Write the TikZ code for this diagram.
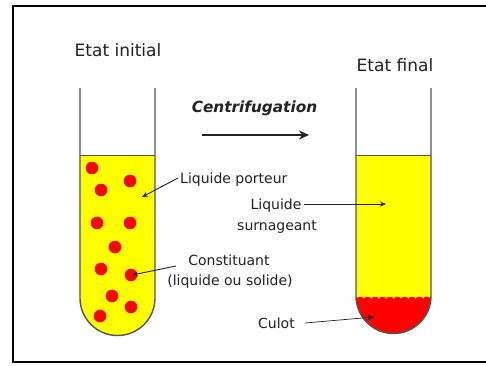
\documentclass[tikz,border=0pt]{standalone}
\usepackage{fontspec}
\setmainfont{DejaVu Sans}
\usetikzlibrary{arrows.meta}
\definecolor{ink}{HTML}{222222}
\definecolor{glass}{HTML}{555555}
\definecolor{liquid}{HTML}{FFFF00}
\definecolor{dot}{HTML}{FF0000}
\tikzset{
  title/.style={inner sep=0pt, anchor=base, text=ink, font=\fontsize{17}{20}\selectfont},
  label/.style={inner sep=0pt, anchor=base, text=ink, font=\fontsize{14}{17}\selectfont},
  glasswall/.style={draw=glass, line width=1.4pt},
  pointer/.style={draw=ink, line width=0.9pt, -{Stealth[length=6pt,width=5pt]}},
  particle/.style={fill=dot, draw=none},
}
\begin{document}
\begin{tikzpicture}[x=1pt, y=-1pt]
  \useasboundingbox (0,0) rectangle (486,365);
  \fill[white] (0,0) rectangle (486,365);
  % outer frame, open on the right
  \draw[line width=2.6pt, black] (492,6) -- (13,6) -- (13,362) -- (492,362);

  % ---------- initial tube ----------
  \fill[liquid] (80,155) -- (80,298) arc[start angle=180, end angle=0, radius=37.5] -- (155,155) -- cycle;
  \draw[glass, line width=1pt] (80,155) -- (155,155);
  \foreach \px/\py in {92/168, 130/181, 101/190, 97/223, 130/223, 115/247,
                       101/269, 131/275, 112/296, 131/307, 100/316}
    \fill[particle] (\px,\py) circle[radius=6.3];
  \draw[glasswall] (80,88) -- (80,298) arc[start angle=180, end angle=0, radius=37.5] -- (155,88);

  % ---------- final tube ----------
  \fill[liquid] (356,155) -- (356,296) arc[start angle=180, end angle=0, radius=37.5] -- (431,155) -- cycle;
  \draw[glass, line width=1pt] (356,155) -- (431,155);
  % pellet with a scalloped top
  \fill[dot] (356.5,299)
    \foreach \k in {0,...,9} { arc[start angle=180, end angle=360, x radius=3.7, y radius=2.3] }
    -- (431,296) arc[start angle=0, end angle=180, radius=37.5] -- cycle;
  \draw[glasswall] (356,88) -- (356,296) arc[start angle=180, end angle=0, radius=37.5] -- (431,88);

  % ---------- texts ----------
  \node[title] (initial) at (118,56) {Etat initial};
  \node[title] (final) at (395,71) {Etat final};
  \node[inner sep=0pt, anchor=base, text=ink, font=\fontsize{15.3}{18}\bfseries\itshape\selectfont]
    (centri) at (254.5,112) {Centrifugation};
  \node[label, anchor=base west] (porteur) at (180,183) {Liquide porteur};
  \node[label] (constituant) at (229,265) {Constituant};
  \node[label] (etat) at (230,285) {(liquide ou solide)};
  \node[label] (liquide) at (276,209) {Liquide};
  \node[label] (surnageant) at (277,230) {surnageant};
  \node[label, anchor=base west] (culot) at (258,328) {Culot};

  % ---------- connectors ----------
  \coordinate (arrowstart) at (202,135);
  \coordinate (arrowend) at (309,135);
  \draw[line width=2pt, ink, -{Stealth[length=10pt,width=9pt]}] (arrowstart) -- (arrowend);

  \coordinate (porteurfrom) at (178,178);
  \coordinate (porteurto) at (142,197);
  \draw[pointer] (porteurfrom) -- (porteurto);

  \coordinate (constfrom) at (176,266);
  \coordinate (constto) at (132,275);
  \draw[pointer] (constfrom) -- (constto);

  \coordinate (surnfrom) at (304,204);
  \coordinate (surnto) at (386,204);
  \draw[pointer, line width=0.7pt] (surnfrom) -- (surnto);

  \coordinate (culotfrom) at (305,323);
  \coordinate (culotto) at (374,317);
  \draw[pointer, line width=0.7pt] (culotfrom) -- (culotto);
\end{tikzpicture}
\end{document}
